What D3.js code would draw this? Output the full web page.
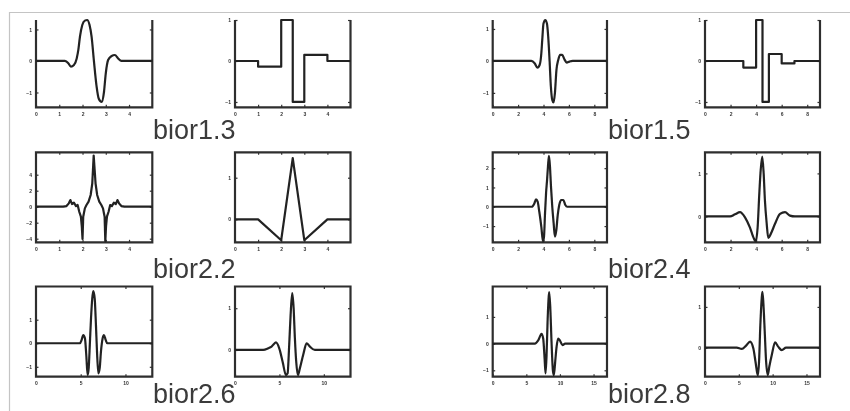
<!DOCTYPE html>
<html>
<head>
<meta charset="utf-8">
<script src="https://cdn.jsdelivr.net/npm/d3@7"></script>
<style>
  html, body { margin: 0; padding: 0; background: #fff; }
  svg { display: block; }
  .tick text { font-family: "Liberation Sans", Arial, sans-serif; font-size: 5px; font-weight: bold; fill: #333; }
  .tick line { stroke: #333; stroke-width: 1.2; }
  .name { font-family: "Liberation Sans", Arial, sans-serif; font-size: 27px; fill: #3a3a3a; }
</style>
</head>
<body>
<svg id="chart" width="850" height="411"></svg>
<script>
(function () {
  'use strict';

  // wavelet names, one per pair of panels
  const names = ['bior1.3', 'bior1.5', 'bior2.2', 'bior2.4', 'bior2.6', 'bior2.8'];

  // tick values
  const ticks5 = [0, 1, 2, 3, 4];
  const ticks9 = [0, 2, 4, 6, 8];
  const ticks13 = [0, 5, 10];
  const ticks17 = [0, 5, 10, 15];

  // bior1.3 decomposition / reconstruction
  const bior13DecX = [0, 1.24, 1.39, 1.5, 1.63, 1.75, 1.82, 1.89, 1.99, 2.1, 2.2, 2.3, 2.39, 2.49, 2.6, 2.7, 2.82, 2.92, 3.0, 3.1, 3.25, 3.39, 3.53, 3.67, 5];
  const bior13DecY = [0, 0, -0.07, -0.18, -0.13, 0.08, 0.35, 0.77, 1.14, 1.28, 1.3, 1.15, 0.77, 0, -0.78, -1.2, -1.3, -1.0, -0.39, 0.03, 0.16, 0.19, 0.08, 0, 0];
  const bior13RecX = [0, 1, 2, 2.5, 3, 4, 5];
  const bior13RecY = [0, -0.14, 1, -1, 0.15, 0, 0];

  // bior1.5
  const bior15DecX = [0, 3.05, 3.3, 3.52, 3.7, 3.83, 3.9, 4.0, 4.14, 4.27, 4.37, 4.48, 4.58, 4.69, 4.79, 4.9, 5.02, 5.16, 5.31, 5.47, 5.65, 5.83, 6.04, 6.3, 9];
  const bior15DecY = [0, 0, -0.07, -0.21, -0.12, 0.24, 0.65, 1.17, 1.28, 1.17, 0.76, 0, -0.8, -1.22, -1.3, -1.0, -0.28, 0.03, 0.19, 0.19, 0.05, -0.05, -0.02, 0, 0];
  const bior15RecX = [0, 3, 4, 4.5, 5, 6, 7, 9];
  const bior15RecY = [0, -0.16, 1, -1, 0.17, -0.06, 0, 0];

  // bior2.2
  const bior22DecX = [0, 1.17, 1.31, 1.41, 1.48, 1.55, 1.63, 1.72, 1.79, 1.86, 1.93, 1.97, 2.0, 2.03, 2.1, 2.17, 2.26, 2.35, 2.42, 2.48, 2.56, 2.63, 2.72, 2.81, 2.88, 2.95, 2.98, 3.01, 3.05, 3.12, 3.19, 3.26, 3.35, 3.43, 3.5, 3.57, 3.67, 3.8, 5];
  const bior22DecY = [0, 0, 0.08, 0.42, 0.83, 0.33, 0.5, 0.08, 0.21, -0.63, -1.25, -2.5, -4.04, -1.25, -0.21, 0.21, 0.63, 1.46, 2.92, 6.4, 2.92, 1.46, 0.63, 0.21, -0.21, -1.25, -4.3, -2.5, -1.25, -0.63, 0.21, 0.08, 0.5, 0.33, 0.83, 0.42, 0.08, 0, 0];
  const bior22RecX = [0, 1, 2, 2.5, 3, 4, 5];
  const bior22RecY = [0, 0, -0.5, 1.47, -0.5, 0, 0];

  // bior2.4
  const bior24DecX = [0, 3.07, 3.28, 3.41, 3.54, 3.67, 3.83, 3.96, 4.04, 4.12, 4.2, 4.28, 4.35, 4.43, 4.51, 4.59, 4.69, 4.8, 4.9, 5.01, 5.12, 5.24, 5.4, 5.56, 5.72, 5.87, 9];
  const bior24DecY = [0, 0, 0.17, 0.38, 0.26, -0.26, -1.04, -1.8, -1.55, -0.34, 0.69, 1.38, 2.07, 2.63, 2.07, 1.04, 0, -0.86, -1.55, -1.21, -0.43, 0.09, 0.35, 0.35, 0.09, 0, 0];
  const bior24RecX = [0, 1.96, 2.35, 2.74, 3.13, 3.52, 3.78, 3.97, 4.12, 4.25, 4.36, 4.48, 4.59, 4.69, 4.83, 4.95, 5.14, 5.48, 5.87, 6.26, 6.65, 7.04, 9];
  const bior24RecY = [0, 0, 0.05, 0.1, -0.02, -0.26, -0.48, -0.58, -0.25, 0.53, 1.08, 1.39, 1.0, 0.37, -0.17, -0.5, -0.41, -0.17, 0.06, 0.1, 0.02, 0, 0];

  // bior2.6
  const bior26DecX = [0, 4.92, 5.1, 5.28, 5.47, 5.62, 5.77, 5.89, 6.03, 6.15, 6.29, 6.4, 6.56, 6.7, 6.82, 6.97, 7.12, 7.26, 7.45, 7.6, 7.79, 7.97, 13];
  const bior26DecY = [0, 0, 0.14, 0.35, 0.21, -0.5, -1.35, -1.06, 0.07, 1.06, 1.91, 2.22, 1.91, 0.78, -0.36, -1.28, -1.06, -0.36, 0.21, 0.35, 0.14, 0, 0];
  const bior26RecX = [0, 3.18, 3.74, 4.12, 4.61, 4.98, 5.36, 5.73, 5.92, 6.1, 6.26, 6.44, 6.6, 6.74, 6.89, 7.08, 7.3, 7.67, 8.06, 8.43, 8.99, 13];
  const bior26RecY = [0, 0, 0.04, 0.08, 0.18, 0.04, -0.28, -0.6, -0.56, 0.12, 0.84, 1.36, 1.0, 0.28, -0.28, -0.6, -0.44, -0.12, 0.16, 0.08, 0, 0];

  // bior2.8
  const bior28DecX = [0, 6.28, 6.77, 7.27, 7.51, 7.72, 7.86, 8.01, 8.16, 8.31, 8.4, 8.55, 8.75, 8.95, 9.1, 9.29, 9.5, 9.74, 9.99, 10.39, 10.77, 17];
  const bior28DecY = [0, 0, 0.12, 0.37, 0.19, -0.56, -1.12, -0.44, 0.81, 1.68, 1.93, 1.43, 0.06, -1.0, -1.18, -0.69, -0.12, 0.19, 0.12, -0.06, 0, 0];
  const bior28RecX = [0, 4.69, 5.43, 6.07, 6.66, 7.15, 7.5, 7.8, 7.99, 8.18, 8.38, 8.48, 8.62, 8.83, 9.02, 9.27, 9.51, 9.87, 10.36, 10.85, 11.35, 11.98, 17];
  const bior28RecY = [0, 0, -0.03, 0.05, 0.15, -0.02, -0.38, -0.68, -0.34, 0.55, 1.2, 1.37, 1.12, 0.39, -0.3, -0.67, -0.46, -0.18, 0.13, 0.02, -0.06, 0, 0];

  // y ranges shown by each panel (value at bottom, value at top)
  const yDomains = [
    [-1.47, 1.30], [-1.13, 1.0], [-1.45, 1.28], [-1.13, 1.0],
    [-4.45, 6.8], [-0.55, 1.61], [-1.84, 2.82], [-0.6, 1.49],
    [-1.42, 2.41], [-0.64, 1.52], [-1.24, 2.14], [-0.71, 1.5]
  ];

  // layout
  const colLeft = [36, 235, 492.7, 705];
  const colRight = [152.3, 350.5, 607, 820];
  const rowTop = [20, 152.3, 286.5];
  const rowBottom = [107.3, 242.3, 376.7];
  const nameX = [153, 608];
  const nameY = [138.5, 277.5, 403];

  const panels = [
    { x: bior13DecX, y: bior13DecY, xMax: 5, xTicks: ticks5, yTicks: [-1, 0, 1], curve: d3.curveMonotoneX },
    { x: bior13RecX, y: bior13RecY, xMax: 5, xTicks: ticks5, yTicks: [-1, 0, 1], curve: d3.curveStepAfter },
    { x: bior15DecX, y: bior15DecY, xMax: 9, xTicks: ticks9, yTicks: [-1, 0, 1], curve: d3.curveMonotoneX },
    { x: bior15RecX, y: bior15RecY, xMax: 9, xTicks: ticks9, yTicks: [-1, 0, 1], curve: d3.curveStepAfter },
    { x: bior22DecX, y: bior22DecY, xMax: 5, xTicks: ticks5, yTicks: [-4, -2, 0, 2, 4], curve: d3.curveLinear },
    { x: bior22RecX, y: bior22RecY, xMax: 5, xTicks: ticks5, yTicks: [0, 1], curve: d3.curveLinear },
    { x: bior24DecX, y: bior24DecY, xMax: 9, xTicks: ticks9, yTicks: [-1, 0, 1, 2], curve: d3.curveMonotoneX },
    { x: bior24RecX, y: bior24RecY, xMax: 9, xTicks: ticks9, yTicks: [0, 1], curve: d3.curveMonotoneX },
    { x: bior26DecX, y: bior26DecY, xMax: 13, xTicks: ticks13, yTicks: [-1, 0, 1], curve: d3.curveMonotoneX },
    { x: bior26RecX, y: bior26RecY, xMax: 13, xTicks: ticks13, yTicks: [0, 1], curve: d3.curveMonotoneX },
    { x: bior28DecX, y: bior28DecY, xMax: 17, xTicks: ticks17, yTicks: [-1, 0, 1], curve: d3.curveMonotoneX },
    { x: bior28RecX, y: bior28RecY, xMax: 17, xTicks: ticks17, yTicks: [0, 1], curve: d3.curveMonotoneX }
  ];

  const svg = d3.select('#chart');

  // the reference is a soft scan, so everything gets a light blur
  svg.append('defs').append('filter')
    .attr('id', 'soft')
    .attr('x', '-10%').attr('y', '-10%').attr('width', '120%').attr('height', '120%')
    .append('feGaussianBlur')
    .attr('stdDeviation', 0.55);

  const root = svg.append('g').attr('filter', 'url(#soft)');

  // page frame from the scan
  root.append('path')
    .attr('d', 'M9.5,411V12.5H850')
    .attr('fill', 'none')
    .attr('stroke', '#c4c4c4')
    .attr('stroke-width', 1.2);

  panels.forEach(function (p, i) {
    const row = Math.floor(i / 4);
    const col = i % 4;
    const x0 = colLeft[col], x1 = colRight[col];
    const y0 = rowTop[row], y1 = rowBottom[row];

    const x = d3.scaleLinear().domain([0, p.xMax]).range([x0, x1]);
    const y = d3.scaleLinear().domain(yDomains[i]).range([y1, y0]);
    const g = root.append('g');
    const noDomain = sel => sel.select('.domain').remove();

    g.append('g')
      .attr('transform', 'translate(0,' + y1 + ')')
      .call(d3.axisBottom(x).tickValues(p.xTicks).tickSizeInner(-2.5).tickSizeOuter(0).tickPadding(5).tickFormat(d3.format('d')))
      .call(noDomain);
    g.append('g')
      .attr('transform', 'translate(' + x0 + ',0)')
      .call(d3.axisLeft(y).tickValues(p.yTicks).tickSizeInner(-2.5).tickSizeOuter(0).tickPadding(4).tickFormat(d3.format('d')))
      .call(noDomain);
    g.append('g')
      .attr('transform', 'translate(' + x1 + ',0)')
      .call(d3.axisRight(y).tickValues(p.yTicks).tickSizeInner(-2.5).tickSizeOuter(0).tickFormat(''))
      .call(noDomain);
    if (row > 0) {
      g.append('g')
        .attr('transform', 'translate(0,' + y0 + ')')
        .call(d3.axisTop(x).tickValues(p.xTicks.slice(1)).tickSizeInner(-2.5).tickSizeOuter(0).tickFormat(''))
        .call(noDomain);
    }

    // frame (the top edge is lost in the first row of the scan)
    const frame = row === 0
      ? 'M' + x0 + ',' + y0 + 'V' + y1 + 'H' + x1 + 'V' + y0
      : 'M' + x0 + ',' + y0 + 'V' + y1 + 'H' + x1 + 'V' + y0 + 'Z';
    g.append('path')
      .attr('d', frame)
      .attr('fill', 'none')
      .attr('stroke', '#2e2e2e')
      .attr('stroke-width', 2.2);

    const line = d3.line()
      .x(d => x(d[0]))
      .y(d => y(d[1]))
      .curve(p.curve);

    g.append('path')
      .datum(d3.zip(p.x, p.y))
      .attr('d', line)
      .attr('fill', 'none')
      .attr('stroke', '#222')
      .attr('stroke-width', 2.2)
      .attr('stroke-linejoin', 'round');
  });

  names.forEach(function (n, i) {
    root.append('text')
      .attr('class', 'name')
      .attr('x', nameX[i % 2])
      .attr('y', nameY[Math.floor(i / 2)])
      .text(n);
  });
}());
</script>
</body>
</html>
